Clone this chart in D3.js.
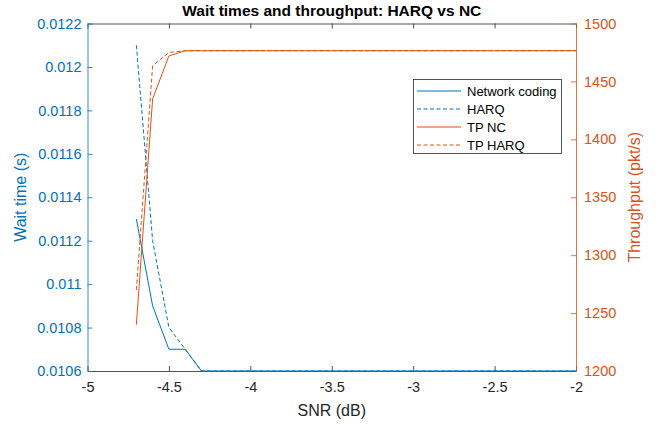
<!DOCTYPE html>
<html>
<head>
<meta charset="utf-8">
<script src="https://cdn.jsdelivr.net/npm/d3@7/dist/d3.min.js"></script>
<style>
  html, body { margin: 0; padding: 0; background: #fff; }
  svg { display: block; font-family: "Liberation Sans", Arial, Helvetica, sans-serif; }
</style>
</head>
<body>
<svg id="chart" width="659" height="424"></svg>
<script>
// ---- Data ----
const snr = [-4.7, -4.6, -4.5, -4.4, -4.3, -4.2, -4.1, -4.0, -3.9, -3.8, -3.7, -3.6, -3.5, -3.4,
             -3.3, -3.2, -3.1, -3.0, -2.9, -2.8, -2.7, -2.6, -2.5, -2.4, -2.3, -2.2, -2.1, -2.0];
const waitNC   = [0.0113, 0.0109, 0.0107, 0.0107, 0.0106, 0.0106, 0.0106, 0.0106, 0.0106, 0.0106,
                  0.0106, 0.0106, 0.0106, 0.0106, 0.0106, 0.0106, 0.0106, 0.0106, 0.0106, 0.0106,
                  0.0106, 0.0106, 0.0106, 0.0106, 0.0106, 0.0106, 0.0106, 0.0106];
const waitHARQ = [0.0121, 0.0112, 0.0108, 0.0107, 0.0106, 0.0106, 0.0106, 0.0106, 0.0106, 0.0106,
                  0.0106, 0.0106, 0.0106, 0.0106, 0.0106, 0.0106, 0.0106, 0.0106, 0.0106, 0.0106,
                  0.0106, 0.0106, 0.0106, 0.0106, 0.0106, 0.0106, 0.0106, 0.0106];
const tpNC     = [1240, 1435, 1472, 1476.5, 1476.5, 1476.5, 1476.5, 1476.5, 1476.5, 1476.5,
                  1476.5, 1476.5, 1476.5, 1476.5, 1476.5, 1476.5, 1476.5, 1476.5, 1476.5, 1476.5,
                  1476.5, 1476.5, 1476.5, 1476.5, 1476.5, 1476.5, 1476.5, 1476.5];
const tpHARQ   = [1270, 1463.5, 1475, 1476.5, 1476.5, 1476.5, 1476.5, 1476.5, 1476.5, 1476.5,
                  1476.5, 1476.5, 1476.5, 1476.5, 1476.5, 1476.5, 1476.5, 1476.5, 1476.5, 1476.5,
                  1476.5, 1476.5, 1476.5, 1476.5, 1476.5, 1476.5, 1476.5, 1476.5];

const xTicks = [-5, -4.5, -4, -3.5, -3, -2.5, -2];
const xTickLabels = ["-5", "-4.5", "-4", "-3.5", "-3", "-2.5", "-2"];
const yLeftTicks = [0.0106, 0.0108, 0.0110, 0.0112, 0.0114, 0.0116, 0.0118, 0.0120, 0.0122];
const yLeftTickLabels = ["0.0106", "0.0108", "0.011", "0.0112", "0.0114", "0.0116", "0.0118", "0.012", "0.0122"];
const yRightTicks = [1200, 1250, 1300, 1350, 1400, 1450, 1500];
const yRightTickLabels = ["1200", "1250", "1300", "1350", "1400", "1450", "1500"];

const seriesNames = ["Network coding", "HARQ", "TP NC", "TP HARQ"];

// ---- Layout ----
const BLUE = "#0072BD", ORANGE = "#D95319", AX = "#262626";
const L = 87.5, R = 576, T = 23.5, B = 371;
const svg = d3.select("#chart");

const x = d3.scaleLinear().domain([-5, -2]).range([L, R]);
const yL = d3.scaleLinear().domain([0.0106, 0.0122]).range([B, T]);
const yR = d3.scaleLinear().domain([1200, 1500]).range([B, T]);

const tickLen = 5;
const tickFont = "14.5px";

// Bottom axis
const xAxisB = d3.axisBottom(x).tickValues(xTicks).tickFormat((d, i) => xTickLabels[i])
  .tickSizeInner(-tickLen).tickSizeOuter(0).tickPadding(11);
const gxb = svg.append("g").attr("transform", `translate(0,${B})`).call(xAxisB);
gxb.selectAll("path, line").attr("stroke", AX).attr("stroke-width", 0.8);
gxb.selectAll("text").attr("fill", AX).style("font-size", tickFont);

// Top axis (box)
const xAxisT = d3.axisTop(x).tickValues(xTicks).tickFormat("")
  .tickSizeInner(-tickLen).tickSizeOuter(0);
const gxt = svg.append("g").attr("transform", `translate(0,${T})`).call(xAxisT);
gxt.selectAll("path, line").attr("stroke", AX).attr("stroke-width", 0.8);

// Left axis
const yAxisL = d3.axisLeft(yL).tickValues(yLeftTicks).tickFormat((d, i) => yLeftTickLabels[i])
  .tickSizeInner(-tickLen).tickSizeOuter(0).tickPadding(6);
const gyl = svg.append("g").attr("transform", `translate(${L},0)`).call(yAxisL);
gyl.selectAll("path, line").attr("stroke", BLUE).attr("stroke-width", 0.8);
gyl.selectAll("text").attr("fill", BLUE).style("font-size", tickFont);

// Right axis
const yAxisR = d3.axisRight(yR).tickValues(yRightTicks).tickFormat((d, i) => yRightTickLabels[i])
  .tickSizeInner(-tickLen).tickSizeOuter(0).tickPadding(8);
const gyr = svg.append("g").attr("transform", `translate(${R},0)`).call(yAxisR);
gyr.selectAll("path, line").attr("stroke", ORANGE).attr("stroke-width", 0.8);
gyr.selectAll("text").attr("fill", ORANGE).style("font-size", tickFont);

// Clip
svg.append("clipPath").attr("id", "clip").append("rect")
  .attr("x", L).attr("y", T - 1).attr("width", R - L).attr("height", B - T + 2);

const plot = svg.append("g").attr("clip-path", "url(#clip)");
const lineL = d3.line().x((d, i) => x(snr[i])).y(d => yL(d));
const lineR = d3.line().x((d, i) => x(snr[i])).y(d => yR(d));

const DASH = "4,2.5";
const series = [
  { data: waitNC, gen: lineL, color: BLUE, dash: null },
  { data: waitHARQ, gen: lineL, color: BLUE, dash: DASH },
  { data: tpNC, gen: lineR, color: ORANGE, dash: null },
  { data: tpHARQ, gen: lineR, color: ORANGE, dash: DASH }
];
series.forEach(s => {
  plot.append("path").attr("d", s.gen(s.data))
    .attr("fill", "none").attr("stroke", s.color).attr("stroke-width", 1)
    .attr("stroke-dasharray", s.dash);
});

// Title
svg.append("text").attr("x", (L + R) / 2).attr("y", 16).attr("text-anchor", "middle")
  .attr("fill", "#000").style("font-size", "15.5px").style("font-weight", "bold")
  .text("Wait times and throughput: HARQ vs NC");

// Axis labels
svg.append("text").attr("x", (L + R) / 2).attr("y", 416).attr("text-anchor", "middle")
  .attr("fill", AX).style("font-size", "16px").text("SNR (dB)");
svg.append("text").attr("transform", `translate(26,${(T + B) / 2}) rotate(-90)`)
  .attr("text-anchor", "middle").attr("fill", BLUE).style("font-size", "16px").text("Wait time (s)");
svg.append("text").attr("transform", `translate(640,${(T + B) / 2}) rotate(-90)`)
  .attr("text-anchor", "middle").attr("fill", ORANGE).style("font-size", "16px").text("Throughput (pkt/s)");

// Legend
const lg = svg.append("g");
const lgX = 413.5, lgY = 79.5, lgW = 148, lgH = 74;
lg.append("rect").attr("x", lgX).attr("y", lgY).attr("width", lgW).attr("height", lgH)
  .attr("fill", "#fff").attr("stroke", AX).attr("stroke-width", 0.8);
series.forEach((s, i) => {
  const yy = 91 + i * 18;
  lg.append("line").attr("x1", lgX + 3.5).attr("x2", lgX + 47.5).attr("y1", yy).attr("y2", yy)
    .attr("stroke", s.color).attr("stroke-width", 1).attr("stroke-dasharray", s.dash);
  lg.append("text").attr("x", lgX + 53.5).attr("y", yy).attr("dy", "0.35em")
    .attr("fill", "#000").style("font-size", "13px").text(seriesNames[i]);
});
</script>
</body>
</html>
